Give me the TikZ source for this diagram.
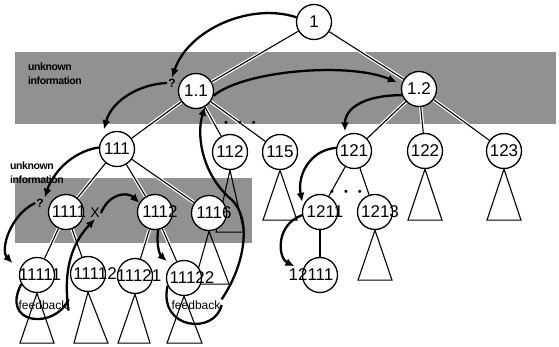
\documentclass[tikz,border=0pt]{standalone}
\usepackage{fontspec}
\setmainfont{Liberation Sans}
\usetikzlibrary{arrows.meta, positioning, backgrounds}
\definecolor{stipple}{RGB}{145,145,145}

\begin{document}
\begin{tikzpicture}[x=1pt, y=-1pt,
  num/.style={circle, draw, fill=white, line width=1.3pt, minimum size=35pt, inner sep=0pt},
  numtext/.style={font=\fontsize{17}{19}\selectfont, inner sep=0pt},
  edge/.style={line width=1.1pt, preaction={draw=white, line width=3.5pt}},
  subtree/.style={line width=1.1pt},
  flow/.style={line width=2.3pt, -{Latex[length=9pt, width=8pt]}},
  fbloop/.style={line width=2.3pt},
  note/.style={font=\fontsize{10.5}{13.5}\selectfont\bfseries\addfontfeatures{LetterSpace=-4}, align=left, inner sep=0pt},
  qmark/.style={font=\fontsize{12}{14}\selectfont\bfseries, inner sep=1pt},
  dotrow/.style={font=\fontsize{11}{11}\selectfont, inner sep=0pt}]
  \useasboundingbox (0,0) rectangle (559,347);

  % tree
  \node[num, label={[numtext]center:1}] (n1) at (314,22) {};
  \node[num, label={[numtext]center:1.1}] (n11) at (196,91) {};
  \node[num, label={[numtext]center:1.2}] (n12) at (419,89) {};
  \node[num, label={[numtext]center:111}] (n111) at (117,149) {};
  \node[num, label={[numtext]center:112}] (n112) at (230,152) {};
  \node[num, label={[numtext]center:115}] (n115) at (280,152) {};
  \node[num, label={[numtext]center:121}] (n121) at (354,151) {};
  \node[num, label={[numtext]center:122}] (n122) at (425,151) {};
  \node[num, label={[numtext]center:123}] (n123) at (504,151) {};
  \node[num, label={[numtext, xshift=3pt]center:1111}] (n1111) at (66,212) {};
  \node[num, label={[numtext, xshift=5pt]center:1112}] (n1112) at (155,212) {};
  \node[num, label={[numtext, xshift=5pt]center:1116}] (n1116) at (209,213) {};
  \node[num, label={[numtext, xshift=5pt]center:1211}] (n1211) at (320,212) {};
  \node[num, label={[numtext, xshift=5pt]center:1213}] (n1213) at (375,212) {};
  \node[num, label={[numtext, xshift=-9pt]center:12111}] (n12111) at (320,275) {};
  \node[num, label={[numtext, xshift=3pt]center:11111}] (n11111) at (37,275) {};
  \node[num, label={[numtext, xshift=7pt]center:11112}] (n11112) at (88,274) {};
  \node[num, label={[numtext, xshift=4pt]center:11121}] (n11121) at (135,276) {};
  \node[num, label={[numtext, xshift=8pt]center:11122}] (n11122) at (184,278) {};

  \node[dotrow] (dots1) at (240,124) {\textbullet\hspace{10pt}\textbullet\hspace{10pt}\textbullet};
  \node[dotrow] (dots2) at (346,193) {\textbullet\hspace{10pt}\textbullet\hspace{10pt}\textbullet};

  % labels
  \node[note, anchor=north west] (unk1) at (28,63) {unknown\\information};
  \node[note, anchor=north west] (unk2) at (10,162) {unknown\\information};
  \node[qmark] (q1) at (172,83) {?};
  \node[qmark] (q2) at (40,203) {?};
  \node[font=\fontsize{14}{16}\selectfont, inner sep=1pt] (xm) at (95,213) {X};
  \node[font=\fontsize{12}{14}\selectfont, inner sep=1pt] (fb1) at (43,305) {feedback};
  \node[font=\fontsize{12}{14}\selectfont, inner sep=1pt] (fb2) at (196,305) {feedback};

  \begin{scope}[on background layer]
    \fill[stipple] (15,52) rectangle (556,124);
    \fill[stipple] (15,178) rectangle (252,243);
    \draw[edge] (n1) -- (n11);
    \draw[edge] (n1) -- (n12);
    \draw[edge] (n11) -- (n111);
    \draw[edge] (n11) -- (n112);
    \draw[edge] (n11) -- (n115);
    \draw[edge] (n12) -- (n121);
    \draw[edge] (n12) -- (n122);
    \draw[edge] (n12) -- (n123);
    \draw[edge] (n111) -- (n1111);
    \draw[edge] (n111) -- (n1112);
    \draw[edge] (n111) -- (n1116);
    \draw[edge] (n1111) -- (n11111);
    \draw[edge] (n1111) -- (n11112);
    \draw[edge] (n1112) -- (n11121);
    \draw[edge] (n1112) -- (n11122);
    \draw[edge] (n121) -- (n1211);
    \draw[edge] (n121) -- (n1213);
    \draw[edge] (n1211) -- (n12111);
    % subtrees
    \draw[subtree] (n112.south) -- ++(-14,62) -- ++(28,0) -- cycle;
    \draw[subtree] (n1116.south) -- ++(-15,53) -- ++(35,0) -- cycle;
  \end{scope}

  \draw[subtree] (n115.south) -- ++(-17,50) -- ++(34,0) -- cycle;
  \draw[subtree] (n122.south) -- ++(-17,51) -- ++(34,0) -- cycle;
  \draw[subtree] (n123.south) -- ++(-17,51) -- ++(34,0) -- cycle;
  \draw[subtree] (n1213.south) -- ++(-17,50) -- ++(34,0) -- cycle;
  \draw[subtree] (n11111.south) -- ++(-17,50) -- ++(34,0) -- cycle;
  \draw[subtree] (n11112.south) -- ++(-14,51) -- ++(34,0) -- cycle;
  \draw[subtree] (n11121.south) -- ++(-17,49) -- ++(32,0) -- cycle;
  \draw[subtree] (n11122.south) -- ++(-17,47) -- ++(35,0) -- cycle;

  % information flow
  \draw[flow] (n1.165) .. controls (250,2) and (188,30) .. (q1.north);
  \draw[flow] (q1.west) .. controls (140,84) and (112,100) .. ([shift={(-4,-4)}]n111.120);
  \draw[flow, shorten >=5pt] (n11.-15) .. controls (245,70) and (350,62) .. (n12.165);
  \draw[flow, shorten >=4pt] (n12.200) .. controls (365,95) and (345,108) .. (n121.120);
  \draw[flow, shorten >=4pt] (n121.170) .. controls (310,150) and (297,175) .. (n1211.160);
  \draw[flow, shorten >=9pt] (n1211.190) .. controls (275,225) and (278,258) .. (n12111.165);
  \draw[flow] (n111.175) .. controls (70,152) and (52,175) .. (q2.north east);
  \draw[flow, shorten >=10pt] (q2.west) .. controls (10,215) and (0,250) .. (n11111.165);
  \draw[flow] (xm.east) .. controls (110,192) and (128,192) .. (n1112.150);
  \draw[flow, shorten >=6pt] (n1112.-80) .. controls (156,245) and (160,255) .. (n11122.135);
  % feedback
  \draw[fbloop] (n11111.210) .. controls (0,325) and (55,330) .. (fb1.north east);
  \draw[flow] (fb1.south east) .. controls (62,265) and (75,240) .. (xm.south);
  \draw[fbloop] (n11122.205) .. controls (158,330) and (215,335) .. (fb2.east);
  \draw[flow] (fb2.north east) .. controls (245,265) and (252,220) .. (232,200)
    .. controls (202,175) and (196,135) .. (n11.-60);
\end{tikzpicture}
\end{document}
